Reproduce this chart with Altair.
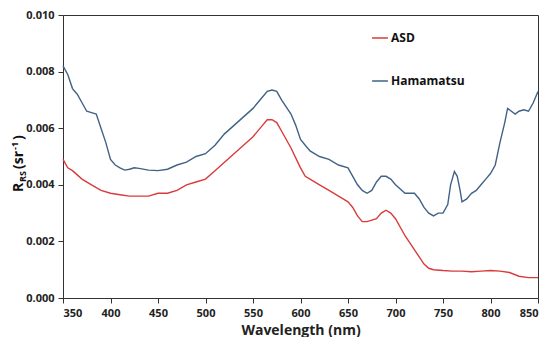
import altair as alt
import pandas as pd

hama_wl = [350, 355, 360, 365, 370, 375, 380, 385, 390, 395, 400, 405, 410, 415, 420, 425, 430, 440, 450, 460,
           470, 480, 490, 500, 510, 520, 530, 540, 550, 560, 565, 570, 575, 580, 590, 595, 600, 605, 610, 620,
           630, 640, 650, 655, 660, 665, 670, 675, 680, 685, 690, 695, 700, 710, 720, 725, 730, 735, 740, 745,
           750, 755, 758, 762, 765, 768, 770, 775, 780, 785, 790, 795, 800, 805, 810, 815, 818, 822, 826, 830,
           835, 840, 845, 850]
hama_val = [0.0082, 0.0079, 0.0074, 0.0072, 0.0069, 0.0066, 0.00655, 0.0065, 0.0060, 0.0055, 0.0049, 0.0047,
            0.0046, 0.00452, 0.00455, 0.0046, 0.00458, 0.00452, 0.0045, 0.00455, 0.0047, 0.0048, 0.0050, 0.0051,
            0.0054, 0.0058, 0.0061, 0.0064, 0.0067, 0.0071, 0.0073, 0.00735, 0.0073, 0.0070, 0.0065, 0.0061,
            0.0056, 0.0054, 0.0052, 0.0050, 0.0049, 0.0047, 0.0046, 0.0043, 0.0040, 0.0038, 0.0037, 0.0038,
            0.0041, 0.0043, 0.0043, 0.0042, 0.0040, 0.0037, 0.0037, 0.0035, 0.0032, 0.0030, 0.0029, 0.0030,
            0.0030, 0.0033, 0.0040, 0.00447, 0.0043, 0.0038, 0.0034, 0.0035, 0.0037, 0.0038, 0.0040, 0.0042,
            0.0044, 0.0047, 0.0055, 0.0062, 0.0067, 0.0066, 0.0065, 0.0066, 0.00665, 0.0066, 0.0069, 0.0073]

asd_wl = [350, 355, 360, 370, 380, 390, 400, 410, 420, 430, 440, 450, 460, 470, 480, 490, 500, 510, 520, 530,
          540, 550, 560, 565, 570, 575, 580, 590, 600, 605, 610, 620, 630, 640, 650, 655, 660, 665, 670, 680,
          685, 690, 695, 700, 710, 720, 730, 735, 740, 750, 760, 770, 780, 790, 800, 810, 820, 830, 840, 850]
asd_val = [0.0049, 0.0046, 0.0045, 0.0042, 0.0040, 0.0038, 0.0037, 0.00365, 0.0036, 0.0036, 0.0036, 0.0037,
           0.0037, 0.0038, 0.0040, 0.0041, 0.0042, 0.0045, 0.0048, 0.0051, 0.0054, 0.0057, 0.0061, 0.0063,
           0.0063, 0.0062, 0.0059, 0.0053, 0.0046, 0.0043, 0.0042, 0.0040, 0.0038, 0.0036, 0.0034, 0.0032,
           0.0029, 0.0027, 0.0027, 0.0028, 0.0030, 0.0031, 0.0030, 0.0028, 0.0022, 0.0017, 0.0012, 0.00105,
           0.0010, 0.00097, 0.00095, 0.00095, 0.00093, 0.00095, 0.00097, 0.00095, 0.0009, 0.00077, 0.00072,
           0.00072]

series = ["ASD", "Hamamatsu"]
colors = ["#d93b3b", "#416285"]
x_ticks = [350, 400, 450, 500, 550, 600, 650, 700, 750, 800, 850]
y_ticks = [0.0, 0.002, 0.004, 0.006, 0.008, 0.010]

df = pd.concat([
    pd.DataFrame({"wl": asd_wl, "v": asd_val, "s": "ASD", "o": range(len(asd_wl))}),
    pd.DataFrame({"wl": hama_wl, "v": hama_val, "s": "Hamamatsu", "o": range(len(hama_wl))}),
])

FONT = "Open Sans"

lines = alt.Chart(df).mark_line(strokeWidth=1.4).encode(
    x=alt.X("wl:Q", scale=alt.Scale(domain=[350, 850], nice=False, zero=False),
            axis=alt.Axis(values=x_ticks, title="Wavelength (nm)", grid=False, labelFont=FONT,
                          labelFontWeight="bold", labelFontSize=11, labelColor="#222",
                          titleFont=FONT, titleFontWeight="bold", titleFontSize=14, titleColor="#222",
                          titlePadding=5, tickSize=5, domainColor="#333", tickColor="#333", labelPadding=4)),
    y=alt.Y("v:Q", scale=alt.Scale(domain=[0, 0.010], nice=False),
            axis=alt.Axis(values=y_ticks, format=".3f", title=None, grid=False, labelFont=FONT,
                          labelFontWeight="bold", labelFontSize=11, labelColor="#222", tickSize=5,
                          domainColor="#333", tickColor="#333", labelPadding=4)),
    color=alt.Color("s:N", scale=alt.Scale(domain=series, range=colors),
                    legend=alt.Legend(title=None, orient="none", legendX=308, legendY=14,
                                      symbolType="stroke", symbolSize=250, symbolStrokeWidth=1.5,
                                      labelFont=FONT, labelFontWeight="bold", labelFontSize=12,
                                      labelColor="#111", rowPadding=28, labelOffset=2)),
    order="o:Q",
)

one = pd.DataFrame({"a": [0]})

def piece(text, x, y, size):
    return alt.Chart(one).mark_text(text=text, angle=270, align="left", baseline="middle",
                                    font=FONT, fontWeight="bold", fontSize=size, color="#111").encode(
        x=alt.value(x), y=alt.value(y))

title_parts = [
    piece("R", -44, 177, 14),
    piece("RS", -40, 167, 9),
    piece("(sr", -44, 154, 14),
    piece("-1", -48, 135, 9),
    piece(")", -44, 125, 14),
]

chart = alt.layer(lines, *title_parts).properties(
    width=475, height=283,
    autosize=alt.AutoSizeParams(type="none"),
    padding={"left": 55, "top": 7, "right": 4, "bottom": 39},
).configure_view(stroke="#333", strokeWidth=1)

chart.save("out.html", embed_options={"renderer": "svg", "actions": False})
